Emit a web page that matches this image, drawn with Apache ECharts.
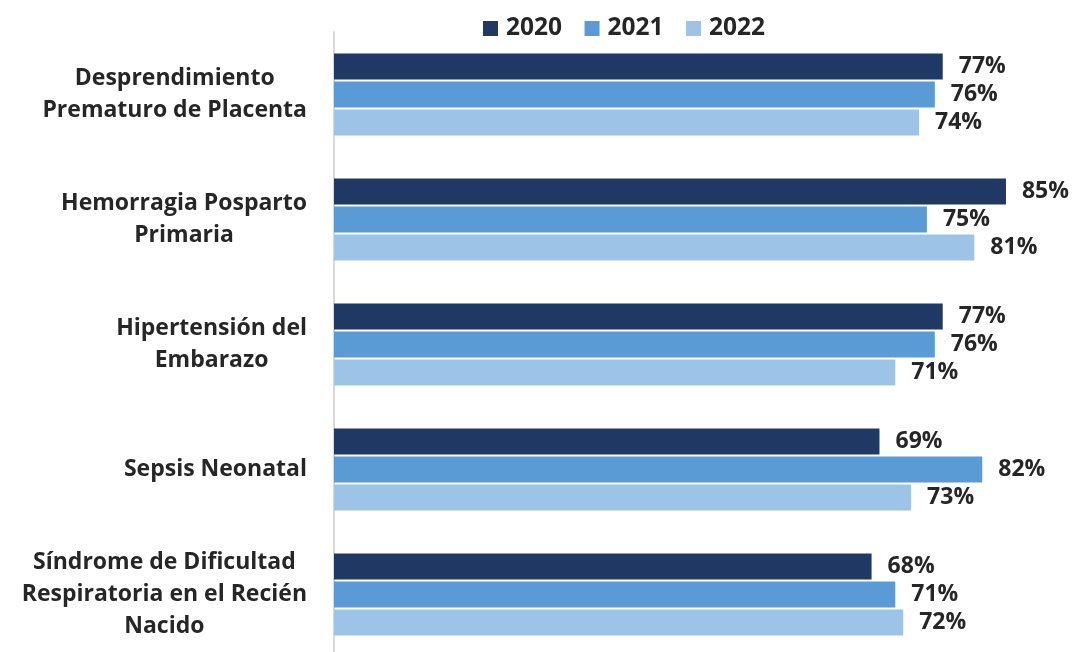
<!DOCTYPE html>
<html>
<head>
<meta charset="utf-8">
<script src="https://cdn.jsdelivr.net/npm/echarts@6/dist/echarts.min.js"></script>
<style>
html,body{margin:0;padding:0;background:#fff;}
#chart{width:1073px;height:652px;}
</style>
</head>
<body>
<div id="chart"></div>
<script>
const categories = [
  'Desprendimiento\nPrematuro de Placenta',
  'Hemorragia Posparto\nPrimaria',
  'Hipertensión del\nEmbarazo',
  'Sepsis Neonatal',
  'Síndrome de Dificultad\nRespiratoria en el Recién\nNacido'
];
const seriesNames = ['2020', '2021', '2022'];
const values2020 = [77, 85, 77, 69, 68];
const values2021 = [76, 75, 76, 82, 71];
const values2022 = [74, 81, 71, 73, 72];
const colors = ['#203864', '#5B9BD5', '#9DC3E6'];

const chart = echarts.init(document.getElementById('chart'));
const FONT = '"Open Sans", sans-serif';
const TXT = '#262626';

function mkSeries(name, data, color) {
  return {
    name: name,
    type: 'bar',
    data: data,
    barWidth: 26,
    barGap: '8%',
    itemStyle: { color: color },
    label: {
      show: true,
      position: 'right',
      distance: 16,
      formatter: '{c}%',
      fontFamily: FONT,
      fontWeight: 'bold',
      fontSize: 23,
      color: TXT
    }
  };
}

chart.setOption({
  animation: false,
  color: colors,
  legend: {
    data: seriesNames,
    left: 478,
    top: 11,
    itemWidth: 15,
    itemHeight: 15,
    itemGap: 22.5,
    icon: 'rect',
    textStyle: {
      fontFamily: FONT,
      fontWeight: 'bold',
      fontSize: 24.5,
      color: TXT,
      padding: [0, 0, 0, 3]
    }
  },
  grid: {
    left: 334,
    top: 32,
    width: 711.5,
    height: 625,
    containLabel: false,
    outerBoundsMode: 'none'
  },
  xAxis: {
    type: 'value',
    min: 0,
    max: 90,
    show: false,
    splitLine: { show: false }
  },
  yAxis: {
    type: 'category',
    inverse: true,
    data: categories,
    axisTick: { show: false },
    axisLine: { show: true, lineStyle: { color: '#D9D9D9', width: 2 } },
    axisLabel: {
      margin: 27,
      align: 'right',
      fontFamily: FONT,
      fontWeight: 'bold',
      fontSize: 23,
      lineHeight: 32,
      color: TXT,
      formatter: function (v) {
        return v.split('\n').map(function (l) { return '{c|' + l + '}'; }).join('\n');
      },
      rich: {
        c: {
          align: 'center',
          fontFamily: FONT,
          fontWeight: 'bold',
          fontSize: 23,
          lineHeight: 32,
          color: TXT
        }
      }
    }
  },
  series: [
    mkSeries(seriesNames[0], values2020, colors[0]),
    mkSeries(seriesNames[1], values2021, colors[1]),
    mkSeries(seriesNames[2], values2022, colors[2])
  ]
});
</script>
</body>
</html>
